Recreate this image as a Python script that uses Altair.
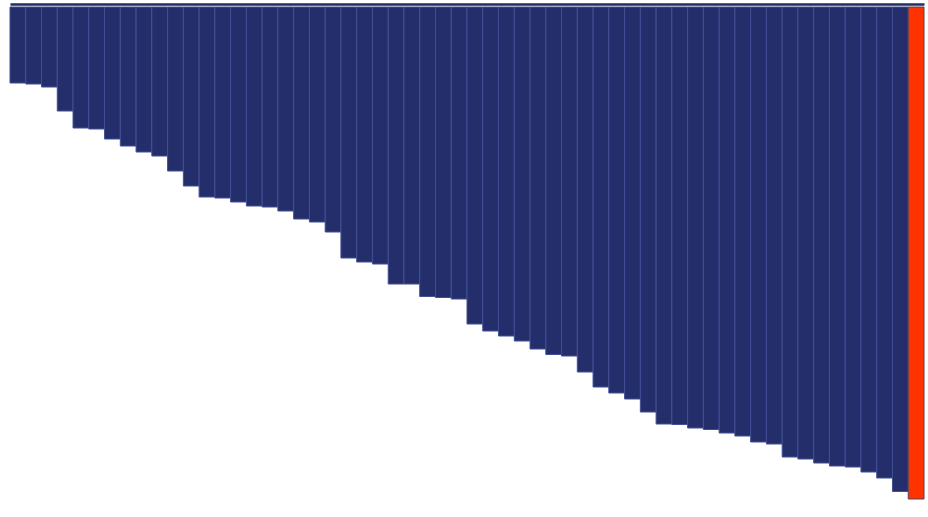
import altair as alt
import pandas as pd

categories = [f"C{i:02d}" for i in range(1, 58)] + ["Highlight"]
values = [76, 77, 80, 104, 121, 122, 132, 139, 145, 149,
          164, 179, 190, 191, 195, 199, 200, 204, 212, 215,
          225, 251, 255, 257, 277, 277, 289.5, 290.5, 292, 317,
          324, 329, 334, 342, 347.5, 349, 365, 380, 386, 392,
          405, 417, 417.5, 421, 422.5, 426, 429, 435, 437, 450,
          452, 456, 459, 460, 465, 471, 484.5, 492]
groups = ["base"] * 57 + ["highlight"]

df = pd.DataFrame({"category": categories, "value": values, "group": groups})

chart = alt.Chart(df).mark_bar(strokeWidth=1).encode(
    x=alt.X("category:N", sort=None,
            scale=alt.Scale(paddingInner=0, paddingOuter=0),
            axis=alt.Axis(orient="top", labels=False, ticks=False, title=None,
                          grid=False, domainColor="#232c5e", domainWidth=2.6,
                          offset=3)),
    y=alt.Y("value:Q", scale=alt.Scale(domain=[0, 500], reverse=True, nice=False),
            axis=None),
    color=alt.Color("group:N", scale=alt.Scale(domain=["base", "highlight"],
                                               range=["#232e6b", "#ff3300"]),
                    legend=None),
    stroke=alt.Stroke("group:N", scale=alt.Scale(domain=["base", "highlight"],
                                                 range=["#404f95", "#5b3f55"]),
                      legend=None),
).properties(
    width=914, height=500,
    autosize=alt.AutoSizeParams(type="none"),
    padding={"left": 10, "top": 7, "right": 4, "bottom": 10},
).configure_view(stroke=None)

chart.save("out.html", embed_options={"renderer": "svg", "actions": False})
